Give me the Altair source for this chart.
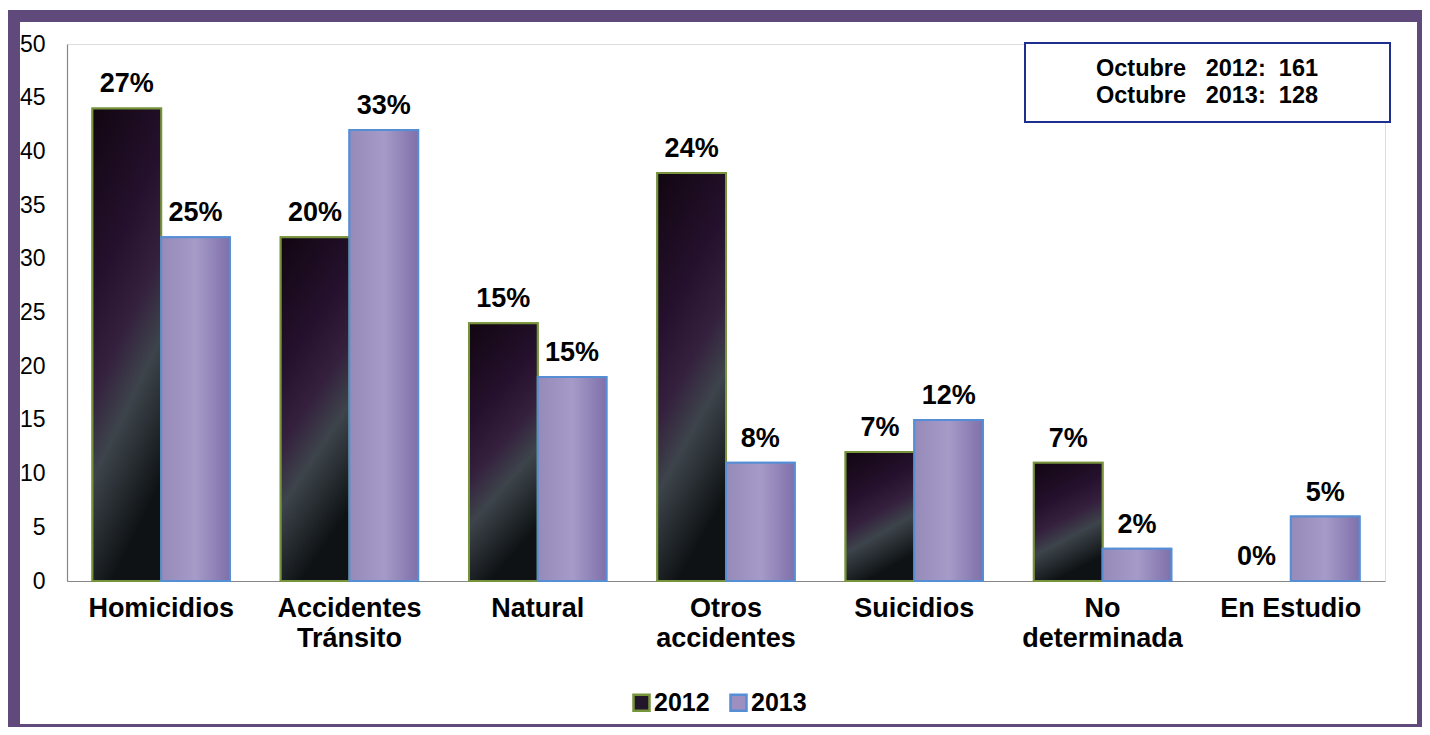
import altair as alt
import pandas as pd

categories = ["Homicidios", "Accidentes|Tránsito", "Natural", "Otros|accidentes",
              "Suicidios", "No|determinada", "En Estudio"]
years = ["2012", "2013"]
values_2012 = [44, 32, 24, 38, 12, 11, 0]
values_2013 = [32, 42, 19, 11, 15, 3, 6]
pct_2012 = ["27%", "20%", "15%", "24%", "7%", "7%", "0%"]
pct_2013 = ["25%", "33%", "15%", "8%", "12%", "2%", "5%"]
y_ticks = [0, 5, 10, 15, 20, 25, 30, 35, 40, 45, 50]
box_lines = ["Octubre\u00a0\u00a0\u00a02012:\u00a0\u00a0161",
             "Octubre\u00a0\u00a0\u00a02013:\u00a0\u00a0128"]

rows = []
for c, v, p in zip(categories, values_2012, pct_2012):
    rows.append({"cat": c, "year": "2012", "value": v, "pct": p})
for c, v, p in zip(categories, values_2013, pct_2013):
    rows.append({"cat": c, "year": "2013", "value": v, "pct": p})
df = pd.DataFrame(rows)

W, H = 1318, 537
FONT = "Liberation Sans"

x_enc = alt.X("cat:N", sort=categories,
              scale=alt.Scale(paddingInner=0.27, paddingOuter=0.135),
              axis=alt.Axis(title=None, labelAngle=0, labelFontSize=27, labelFontWeight="bold",
                            labelColor="black", labelPadding=14, labelLineHeight=30,
                            ticks=False, domainColor="#868686", domainWidth=1.2,
                            labelExpr="split(datum.label, '|')"))
y_enc = alt.Y("value:Q", scale=alt.Scale(domain=[0, 50], nice=False),
              axis=alt.Axis(title=None, values=y_ticks, labelFontSize=23, labelColor="black",
                            labelPadding=22, ticks=False, grid=False,
                            domainColor="#868686", domainWidth=1.2))
xo_enc = alt.XOffset("year:N", sort=years, scale=alt.Scale(paddingInner=0, paddingOuter=0))

base = alt.Chart(df)

leg = dict(title=None, orient="none", legendX=562, legendY=646,
           direction="horizontal", symbolType="square",
           symbolSize=256, symbolStrokeWidth=2.5,
           labelFontSize=25, labelFontWeight="bold",
           labelColor="black", labelOffset=0, columnPadding=15)

bars = base.transform_filter(alt.datum.value > 0).mark_bar(strokeWidth=2).encode(
    x=x_enc, xOffset=xo_enc, y=y_enc,
    color=alt.Color("year:N", sort=years,
                    scale=alt.Scale(domain=years, range=["#22172a", "#9d8fc0"]),
                    legend=alt.Legend(**leg)),
    stroke=alt.Stroke("year:N", sort=years,
                      scale=alt.Scale(domain=years, range=["#77933C", "#558ED5"]),
                      legend=alt.Legend(**leg)),
)

grad_2012 = {"gradient": "linear", "x1": 0, "y1": 0, "x2": 0.3, "y2": 1,
             "stops": [{"offset": 0, "color": "#120611"},
                       {"offset": 0.35, "color": "#24102c"},
                       {"offset": 0.55, "color": "#341f3d"},
                       {"offset": 0.72, "color": "#3d444b"},
                       {"offset": 1, "color": "#0e1214"}]}
grad_2013 = {"gradient": "linear", "x1": 0, "y1": 0, "x2": 1, "y2": 0,
             "stops": [{"offset": 0, "color": "#968ab8"},
                       {"offset": 0.5, "color": "#a69bc8"},
                       {"offset": 1, "color": "#7f70aa"}]}

g12 = base.transform_filter((alt.datum.year == "2012") & (alt.datum.value > 0)).mark_bar(
    color=grad_2012, stroke="#77933C", strokeWidth=2).encode(x=x_enc, xOffset=xo_enc, y=y_enc)
g13 = base.transform_filter((alt.datum.year == "2013") & (alt.datum.value > 0)).mark_bar(
    color=grad_2013, stroke="#558ED5", strokeWidth=2).encode(x=x_enc, xOffset=xo_enc, y=y_enc)

labels = base.mark_text(fontSize=27, fontWeight="bold", color="black", dy=-16,
                        baseline="alphabetic", font=FONT).encode(
    x=x_enc, xOffset=xo_enc, y=y_enc, text="pct:N")

one_row = pd.DataFrame({"a": [0]})
box = alt.Chart(one_row).mark_rect(
    fill="white", stroke="#1F2F8F", strokeWidth=2).encode(
    x=alt.value(958), x2=alt.value(1323), y=alt.value(-1), y2=alt.value(78))
box_text1 = alt.Chart(pd.DataFrame({"t": [box_lines[0]]})).mark_text(
    fontSize=23.5, fontWeight="bold", color="black", font=FONT, baseline="alphabetic").encode(
    x=alt.value(1140), y=alt.value(32), text="t:N")
box_text2 = alt.Chart(pd.DataFrame({"t": [box_lines[1]]})).mark_text(
    fontSize=23.5, fontWeight="bold", color="black", font=FONT, baseline="alphabetic").encode(
    x=alt.value(1140), y=alt.value(59), text="t:N")

PURPLE = "#604A7B"
def strip(x1, x2, y1, y2):
    return alt.Chart(one_row).mark_rect(fill=PURPLE, strokeWidth=0).encode(
        x=alt.value(x1), x2=alt.value(x2), y=alt.value(y1), y2=alt.value(y2))

frame = [strip(-59, -47, -34, 683), strip(-59, 1355, -34, -22),
         strip(1350, 1355, -34, 683), strip(-59, 1355, 680, 683)]

chart = alt.layer(bars, g12, g13, labels, box, box_text1, box_text2, *frame).properties(
    width=W, height=H,
    autosize=alt.AutoSizeParams(type="none"),
    padding={"left": 59, "top": 36, "right": 37, "bottom": 146},
    background="white",
).configure_view(stroke=None).configure(font=FONT)

chart.save("out.html", embed_options={"renderer": "svg", "actions": False})
